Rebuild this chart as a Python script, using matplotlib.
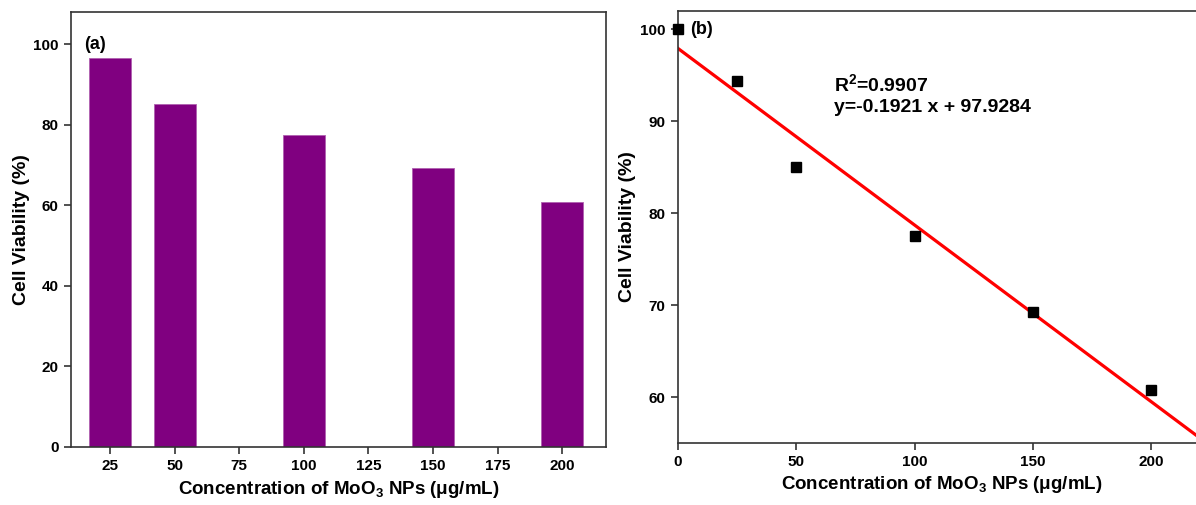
import matplotlib
matplotlib.use("Agg")
import matplotlib.pyplot as plt
import numpy as np

# data
conc = [25, 50, 100, 150, 200]
viability_bar = [96.6, 85.1, 77.5, 69.3, 60.8]

conc_fit = [0, 25, 50, 100, 150, 200]
viability_pts = [100.0, 94.4, 85.0, 77.5, 69.2, 60.8]
slope = -0.1921
intercept = 97.9284

xticks_a = [25, 50, 75, 100, 125, 150, 175, 200]
yticks_a = [0, 20, 40, 60, 80, 100]
xticks_b = [0, 50, 100, 150, 200]
yticks_b = [60, 70, 80, 90, 100]

plt.rcParams["font.family"] = ["Liberation Sans", "DejaVu Sans"]
plt.rcParams["font.weight"] = "bold"
plt.rcParams["mathtext.fontset"] = "custom"
plt.rcParams["mathtext.rm"] = "Liberation Sans:bold"
plt.rcParams["mathtext.bf"] = "Liberation Sans:bold"
plt.rcParams["mathtext.default"] = "bf"

XLABEL = "Concentration of MoO$_3$ NPs (\u03bcg/mL)"
YLABEL = "Cell Viability (%)"
W, H = 1196, 505

fig = plt.figure(figsize=(W / 100, H / 100), dpi=100)


def box(x0, y0, x1, y1):
    # pixel box -> figure fraction
    return [x0 / W, 1 - y1 / H, (x1 - x0) / W, (y1 - y0) / H]


def style(ax):
    for s in ax.spines.values():
        s.set_linewidth(1.2)
        s.set_color("#333333")
    ax.tick_params(direction="out", length=5, width=1.2, color="#333333",
                   labelsize=11, pad=4)
    for lbl in ax.get_xticklabels() + ax.get_yticklabels():
        lbl.set_fontweight("bold")


# (a) bar chart
ax1 = fig.add_axes(box(71, 12, 606, 447))
ax1.bar(conc, viability_bar, width=16.3, color="#800080",
        edgecolor="#b060b0", linewidth=0.6)
ax1.set_xlim(9.9, 217)
ax1.set_ylim(0, 108)
ax1.set_xticks(xticks_a)
ax1.set_yticks(yticks_a)
style(ax1)
ax1.set_xlabel(XLABEL, fontsize=13.5, fontweight="bold", labelpad=4)
ax1.set_ylabel(YLABEL, fontsize=14, fontweight="bold", labelpad=2)
ax1.text(0.025, 0.925, "(a)", transform=ax1.transAxes, fontsize=13,
         fontweight="bold", ha="left", va="center")

# (b) linear fit
ax2 = fig.add_axes(box(678, 11, 1205, 443))
xx = np.array([0, 225])
ax2.plot(xx, slope * xx + intercept, color="#ff0000", linewidth=2.3, zorder=2)
ax2.plot(conc_fit, viability_pts, "s", color="black", markersize=7.5,
         zorder=3, clip_on=False)
ax2.set_xlim(0, 222.8)
ax2.set_ylim(55, 102)
ax2.set_xticks(xticks_b)
ax2.set_yticks(yticks_b)
style(ax2)
ax2.set_xlabel(XLABEL, fontsize=13.5, fontweight="bold", labelpad=3)
ax2.set_ylabel(YLABEL, fontsize=14, fontweight="bold", labelpad=3)
ax2.text(5, 100, "(b)", fontsize=13, fontweight="bold", ha="left", va="center")
ax2.text(66, 94.0, "R$^2$=0.9907", fontsize=14, fontweight="bold",
         ha="left", va="center")
ax2.text(66, 91.45, "y=-0.1921 x + 97.9284", fontsize=14, fontweight="bold",
         ha="left", va="center")

fig.savefig("out.png", dpi=100, facecolor="white")
plt.close(fig)
